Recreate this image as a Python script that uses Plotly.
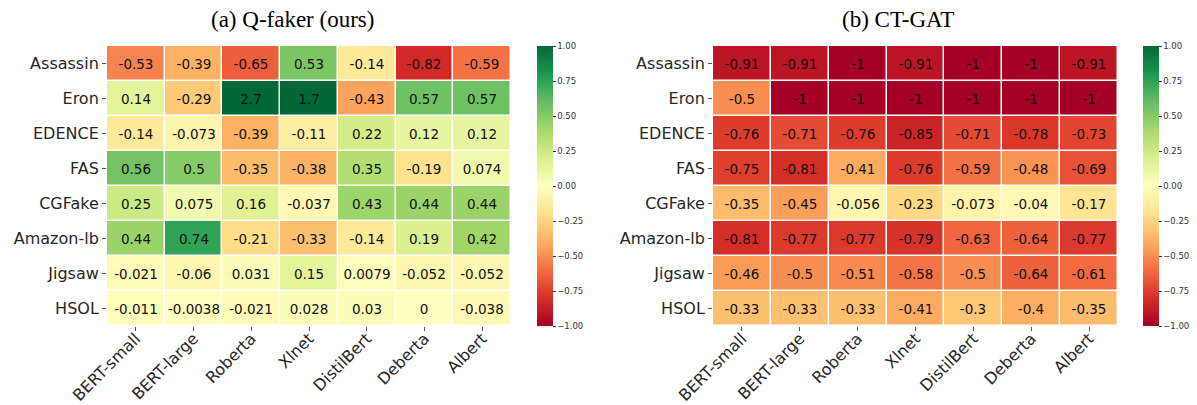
import plotly.graph_objects as go

models = ["BERT-small", "BERT-large", "Roberta", "Xlnet", "DistilBert", "Deberta", "Albert"]
datasets = ["Assassin", "Eron", "EDENCE", "FAS", "CGFake", "Amazon-lb", "Jigsaw", "HSOL"]

qfaker = [
    [-0.53, -0.39, -0.65, 0.53, -0.14, -0.82, -0.59],
    [0.14, -0.29, 2.7, 1.7, -0.43, 0.57, 0.57],
    [-0.14, -0.073, -0.39, -0.11, 0.22, 0.12, 0.12],
    [0.56, 0.5, -0.35, -0.38, 0.35, -0.19, 0.074],
    [0.25, 0.075, 0.16, -0.037, 0.43, 0.44, 0.44],
    [0.44, 0.74, -0.21, -0.33, -0.14, 0.19, 0.42],
    [-0.021, -0.06, 0.031, 0.15, 0.0079, -0.052, -0.052],
    [-0.011, -0.0038, -0.021, 0.028, 0.03, 0, -0.038],
]

ctgat = [
    [-0.91, -0.91, -1, -0.91, -1, -1, -0.91],
    [-0.5, -1, -1, -1, -1, -1, -1],
    [-0.76, -0.71, -0.76, -0.85, -0.71, -0.78, -0.73],
    [-0.75, -0.81, -0.41, -0.76, -0.59, -0.48, -0.69],
    [-0.35, -0.45, -0.056, -0.23, -0.073, -0.04, -0.17],
    [-0.81, -0.77, -0.77, -0.79, -0.63, -0.64, -0.77],
    [-0.46, -0.5, -0.51, -0.58, -0.5, -0.64, -0.61],
    [-0.33, -0.33, -0.33, -0.41, -0.3, -0.4, -0.35],
]

titles = ["(a) Q-faker (ours)", "(b) CT-GAT"]
cbar_ticks = [-1.0, -0.75, -0.5, -0.25, 0.0, 0.25, 0.5, 0.75, 1.0]
cbar_ticktext = [f"{v:.2f}".replace("-", "\u2212") for v in cbar_ticks]

W, H = 1197, 405


def px_x(p):
    return p / W


def px_y(p):
    return 1 - p / H


def fmt(v):
    return f"{v:.2g}"


panels = [
    dict(z=qfaker, x0=107, x1=511, cb=537, title_x=292),
    dict(z=ctgat, x0=713, x1=1118, cb=1143, title_x=898),
]
top, bottom = 46, 326

fig = go.Figure()
for i, p in enumerate(panels):
    suffix = "" if i == 0 else str(i + 1)
    fig.add_trace(go.Heatmap(
        z=p["z"], x=models, y=datasets,
        text=[[fmt(v) for v in row] for row in p["z"]],
        texttemplate="%{text}",
        textfont=dict(family="DejaVu Sans", size=13.5, color="#111111"),
        colorscale="RdYlGn", zmin=-1, zmax=1,
        xgap=1.5, ygap=1.5,
        xaxis="x" + suffix, yaxis="y" + suffix,
        hoverinfo="skip",
        colorbar=dict(
            x=px_x(p["cb"]), xanchor="left", xref="paper",
            y=px_y((top + bottom) / 2), yanchor="middle",
            len=bottom - top, lenmode="pixels",
            thickness=16, thicknessmode="pixels",
            outlinewidth=0, xpad=0, ypad=0,
            tickmode="array",
            tickvals=cbar_ticks, ticktext=cbar_ticktext,
            ticks="outside", ticklen=3, tickcolor="#333333",
            tickfont=dict(family="DejaVu Sans", size=8.5, color="#333333"),
        ),
    ))
    axis_common = dict(
        ticks="outside", ticklen=4, tickwidth=1, tickcolor="#555555",
        showgrid=False, zeroline=False, showline=False, automargin=False,
        tickfont=dict(family="DejaVu Sans", size=16, color="#262626"),
    )
    fig.layout["xaxis" + suffix] = dict(
        domain=[px_x(p["x0"]), px_x(p["x1"])], anchor="y" + suffix,
        tickangle=-45, ticklabelstandoff=-8, **axis_common,
    )
    fig.layout["yaxis" + suffix] = dict(
        domain=[px_y(bottom), px_y(top)], anchor="x" + suffix,
        autorange="reversed", **axis_common,
    )
    fig.add_annotation(
        text=titles[i], xref="paper", yref="paper",
        x=px_x(p["title_x"]), y=px_y(19), xanchor="center", yanchor="middle",
        showarrow=False,
        font=dict(family="Liberation Serif", size=23, color="#000000"),
    )

fig.update_layout(
    width=W, height=H,
    margin=dict(l=0, r=0, t=0, b=0, autoexpand=False),
    paper_bgcolor="white", plot_bgcolor="white",
    showlegend=False,
)

fig.write_html(
    "out.html",
    config={"displayModeBar": False},
    post_script="document.body.style.margin='0';document.body.style.overflow='hidden';",
)
